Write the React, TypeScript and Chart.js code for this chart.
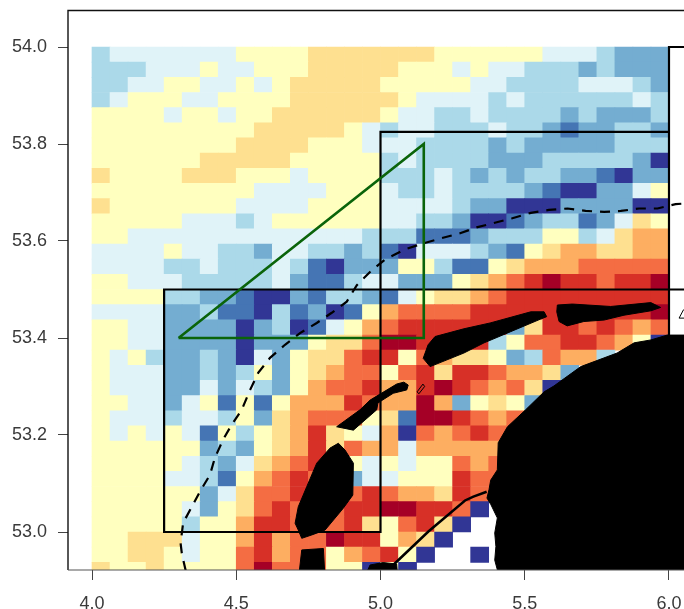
import React, { useEffect, useRef } from "react";
import { Chart, registerables } from "chart.js";

Chart.register(...registerables);

const palette: Record<string, string> = {
  "1": "#313695", "2": "#4575b4", "3": "#74add1", "4": "#abd9e9", "5": "#e0f3f8", "6": "#ffffbf",
  "7": "#fee090", "8": "#fdae61", "9": "#f46d43", "A": "#d73027", "B": "#a50026",
};

const gridRows = [
  "45555555666677777776666665554333",
  "44455565566677777666565544434333",
  "44556655656777776666655444455543",
  "45666556666777777655554544444454",
  "66665665667777776554454444343334",
  "66666666677777654554445443233443",
  "66666666777766655544443433333444",
  "66666677777666664544443334444431",
  "76666777666566664445434344332133",
  "66666666655556665445444432113356",
  "76666666555566665555433111333311",
  "66666555456666665544311234423576",
  "66555555555555544422234446645788",
  "55556554435544342155543267887788",
  "55554454445421333664226788899999",
  "665554444453224553336789ABAA9AAB",
  "66664433211324432567789AAAAAAAAA",
  "555533422142312689999AAAAAAAAAAB",
  "66553333134125689AAAAAA37AA9A989",
  "6655333313336779BBAA8A4699AA9861",
  "656433431536779AA698776349884...",
  "655533434636789969A7AA98873.....",
  "655533535436899A88ABA98971......",
  "66553562626888A988B836763.......",
  "655545546378999672BBA989........",
  "656565264678A76581989A99........",
  "666666343678A79885888889........",
  "666665435789A9656566989.........",
  "66665542689A99355666A99.........",
  "66666635799A999A9887A99.........",
  "6666653679A999AABBAA91..........",
  "666664668AA999A769A71...........",
  "667775668A899BAA6871............",
  "667765669A899689A61..1..........",
  "766766669B99966161..............",
];

const lonStart = 4;
const lonStep = 1 / 16;
const latStart = 54;
const latStep = 1 / 32;

const xTicks = [4, 4.5, 5, 5.5, 6];
const yTicks = [53, 53.2, 53.4, 53.6, 53.8, 54];

type P = [number, number];

const mainland: P[] = [[5.405,52.9],[5.405,52.922],[5.396,52.942],[5.4,52.97],[5.396,52.998],[5.405,53.029],[5.383,53.056],[5.369,53.07],[5.376,53.087],[5.382,53.107],[5.405,53.128],[5.408,53.184],[5.44,53.217],[5.503,53.252],[5.567,53.289],[5.601,53.301],[5.694,53.341],[5.82,53.369],[5.879,53.39],[5.937,53.396],[5.994,53.406],[6.1,53.406],[6.1,52.9]];
const texel: P[] = [[4.854,53.183],[4.877,53.169],[4.906,53.142],[4.904,53.076],[4.871,53.049],[4.808,53.004],[4.762,52.994],[4.727,52.987],[4.715,53.004],[4.704,53.018],[4.715,53.052],[4.744,53.093],[4.779,53.142],[4.825,53.173]];
const vlieland: P[] = [[4.848,53.217],[4.906,53.21],[4.987,53.252],[4.991,53.266],[5.044,53.286],[5.091,53.293],[5.096,53.303],[5.081,53.309],[5.056,53.305],[4.964,53.272],[4.929,53.252]];
const terschelling: P[] = [[5.148,53.358],[5.165,53.386],[5.189,53.403],[5.289,53.419],[5.38,53.431],[5.521,53.454],[5.567,53.454],[5.576,53.444],[5.555,53.439],[5.451,53.413],[5.359,53.39],[5.289,53.369],[5.172,53.341]];
const ameland: P[] = [[5.613,53.468],[5.665,53.47],[5.798,53.465],[5.937,53.473],[5.971,53.463],[5.937,53.456],[5.844,53.447],[5.775,53.437],[5.705,53.434],[5.647,53.425],[5.619,53.434],[5.611,53.454]];
const helder: P[] = [[4.727,52.963],[4.802,52.966],[4.808,52.9],[4.715,52.9]];
const bump: P[] = [[4.939,52.9],[4.964,52.932],[5.009,52.937],[5.056,52.934],[5.061,52.9]];
const landShapes = [mainland, texel, vlieland, terschelling, ameland, helder, bump];

const dike: P[] = [[5.368,53.083],[5.322,53.073],[5.293,53.065],[5.166,53.001],[5.044,52.932]];
const griend: P[] = [[5.127,53.289],[5.147,53.305],[5.153,53.3],[5.133,53.285],[5.127,53.289]];
const rottum: P[] = [[6.07,53.441],[6.035,53.441],[6.05,53.458],[6.07,53.46]];

const boxA: P[] = [[6,53.825],[5,53.825],[5,53],[4.25,53],[4.25,53.5],[6.1,53.5]];
const boxB: P[] = [[6.1,54],[6,54],[6,53.4]];
const triangle: P[] = [[4.3,53.4],[5.15,53.4],[5.15,53.8],[4.3,53.4]];
const contour: P[] = [[4.325,52.92],[4.312,52.953],[4.307,52.977],[4.316,53.019],[4.346,53.052],[4.374,53.083],[4.409,53.118],[4.426,53.153],[4.454,53.19],[4.484,53.221],[4.519,53.252],[4.548,53.293],[4.576,53.328],[4.617,53.359],[4.669,53.386],[4.721,53.41],[4.779,53.431],[4.831,53.452],[4.883,53.475],[4.918,53.509],[4.97,53.54],[5.016,53.562],[5.085,53.583],[5.148,53.595],[5.212,53.606],[5.276,53.616],[5.333,53.628],[5.393,53.637],[5.457,53.647],[5.521,53.658],[5.584,53.664],[5.648,53.667],[5.711,53.662],[5.775,53.66],[5.833,53.662],[5.896,53.667],[5.96,53.667],[6.023,53.676],[6.07,53.678]];

const toXY = (pts: P[]) => pts.map(([x, y]) => ({ x, y }));

const framePlugin = {
  id: "frame",
  afterDraw(chart: any) {
    const { ctx, chartArea: a } = chart;
    ctx.save();
    ctx.strokeStyle = "#111";
    ctx.lineWidth = 1.4;
    ctx.beginPath();
    ctx.moveTo(a.left, a.bottom);
    ctx.lineTo(a.left, a.top);
    ctx.lineTo(a.right, a.top);
    ctx.stroke();
    ctx.strokeStyle = "#555";
    ctx.lineWidth = 1.2;
    ctx.beginPath();
    ctx.moveTo(a.left, a.bottom);
    ctx.lineTo(a.right, a.bottom);
    ctx.stroke();
    ctx.restore();
  },
};

const noPad = (s: any) => {
  s.paddingLeft = 0;
  s.paddingRight = 0;
  s.paddingTop = 0;
  s.paddingBottom = 0;
};

export default function App() {
  const ref = useRef<HTMLCanvasElement>(null);
  useEffect(() => {
    document.body.style.margin = "0";
    const cells: any[] = [];
    const colors: string[] = [];
    gridRows.forEach((row, r) => {
      row.split("").forEach((code, c) => {
        if (code === ".") return;
        cells.push({
          x: lonStart + (c + 0.5) * lonStep,
          y: [latStart - (r + 1) * latStep, latStart - r * latStep],
        });
        colors.push(palette[code]);
      });
    });
    const pathLine = (pts: P[], color: string, width: number, extra: any = {}) => ({
      type: "line",
      data: toXY(pts),
      borderColor: color,
      borderWidth: width,
      pointRadius: 0,
      tension: 0,
      fill: false,
      order: 1,
      ...extra,
    });
    const chart = new Chart(ref.current as HTMLCanvasElement, {
      type: "bar",
      data: {
        datasets: [
          {
            type: "bar",
            data: cells,
            backgroundColor: colors,
            borderWidth: 0,
            barPercentage: 1,
            categoryPercentage: 1,
            grouped: false,
            order: 10,
          },
          ...landShapes.map((s) =>
            pathLine([...s, s[0]], "#000", 1, { fill: "shape", backgroundColor: "#000", order: 5 })
          ),
          pathLine(griend, "#000", 1, { order: 4 }),
          pathLine(rottum, "#000", 1, { order: 4 }),
          pathLine(dike, "#000", 2.5, { order: 4 }),
          pathLine(contour, "#000", 2.2, { borderDash: [10, 8], order: 3 }),
          pathLine(boxA, "#000", 2.2, { order: 2 }),
          pathLine(boxB, "#000", 2.2, { order: 2 }),
          pathLine(triangle, "#0a640a", 2.6, { order: 1 }),
        ] as any,
      },
      options: {
        responsive: false,
        animation: false,
        events: [],
        layout: { padding: { top: 10.5, right: 0, left: 0, bottom: 0 } },
        plugins: { legend: { display: false }, tooltip: { enabled: false } },
        scales: {
          x: {
            type: "linear",
            offset: false,
            min: 4 - 24 / 288.5,
            max: 4 + 592 / 288.5,
            afterBuildTicks: (s: any) => { s.ticks = xTicks.map((value) => ({ value })); },
            afterFit: (s: any) => { s.height = 39; noPad(s); },
            grid: { offset: false, drawOnChartArea: false, tickLength: 10, color: "#444", lineWidth: 1 },
            border: { display: false },
            ticks: {
              autoSkip: false, maxRotation: 0, padding: 13, color: "#3a3a3a",
              font: { family: "'Liberation Sans'", size: 18 },
              callback: (v: any) => Number(v).toFixed(1),
            },
          },
          y: {
            type: "linear",
            min: 54 - 523 / 485,
            max: 54 + 36.5 / 485,
            afterBuildTicks: (s: any) => { s.ticks = yTicks.map((value) => ({ value })); },
            afterFit: (s: any) => { s.width = 68; noPad(s); },
            grid: { drawOnChartArea: false, tickLength: 10, color: "#444", lineWidth: 1 },
            border: { display: false },
            ticks: {
              autoSkip: false, maxRotation: 0, padding: 11, color: "#3a3a3a",
              font: { family: "'Liberation Sans'", size: 18 },
              callback: (v: any) => Number(v).toFixed(1),
            },
          },
        },
      } as any,
      plugins: [framePlugin],
    });
    return () => chart.destroy();
  }, []);
  return <canvas ref={ref} width={684} height={609} style={{ display: "block" }} />;
}
